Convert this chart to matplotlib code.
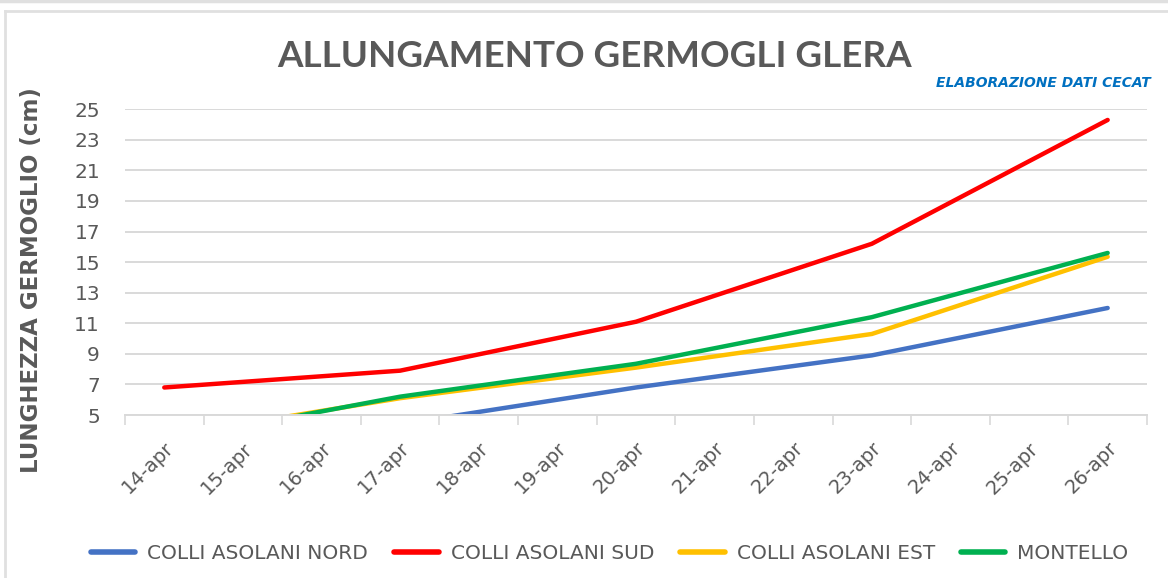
import numpy as np
import matplotlib
matplotlib.use("Agg")
import matplotlib.pyplot as plt
from matplotlib.lines import Line2D

# categories on the x axis (one per day)
days = ["14-apr", "15-apr", "16-apr", "17-apr", "18-apr", "19-apr", "20-apr",
        "21-apr", "22-apr", "23-apr", "24-apr", "25-apr", "26-apr"]
# days with a survey
survey_days = ["14-apr", "17-apr", "20-apr", "23-apr", "26-apr"]

# shoot length (cm); values below 5 are out of view
nord     = [2.6, 4.4, 6.8, 8.9, 12.0]
sud      = [6.8, 7.9, 11.1, 16.2, 24.3]
est      = [3.6, 6.1, 8.1, 10.3, 15.35]
montello = [3.3, 6.2, 8.35, 11.4, 15.6]

series = [
    ("COLLI ASOLANI NORD", nord,     "#4472C4"),
    ("COLLI ASOLANI SUD",  sud,      "#FF0000"),
    ("COLLI ASOLANI EST",  est,      "#FFC000"),
    ("MONTELLO",           montello, "#00B050"),
]

y_ticks = list(range(5, 26, 2))

GREY = "#595959"
GRID = "#D9D9D9"

fig = plt.figure(figsize=(11.68, 5.78), dpi=100)
ax = fig.add_axes([0.107, 0.282, 0.875, 0.529])

x_of = {d: i for i, d in enumerate(days)}
xs = [x_of[d] for d in survey_days]
for name, vals, col in series:
    ax.plot(xs, vals, color=col, lw=3.2, solid_capstyle="round",
            solid_joinstyle="round", label=name)

ax.set_xlim(-0.5, len(days) - 0.5)
ax.set_ylim(5, 25)
ax.set_yticks(y_ticks)
ax.tick_params(axis="y", length=0, labelsize=14.5, labelcolor=GREY, pad=18)
ax.yaxis.grid(True, color=GRID, lw=1.4)
ax.set_axisbelow(True)

# tick marks between categories, labels at category centres
ax.set_xticks(np.arange(-0.5, len(days)), minor=False)
ax.set_xticklabels([])
ax.set_xticks(np.arange(len(days)), minor=True)
ax.set_xticklabels(days, minor=True, rotation=45, ha="right",
                   rotation_mode="anchor", fontsize=14, color=GREY)
ax.tick_params(axis="x", which="major", length=7, width=1.2, color=GRID)
ax.tick_params(axis="x", which="minor", length=0, pad=17)

for s in ["top", "right", "left"]:
    ax.spines[s].set_visible(False)
ax.spines["bottom"].set_color(GRID)
ax.spines["bottom"].set_linewidth(1.4)

fig.text(0.509, 0.903, "ALLUNGAMENTO GERMOGLI GLERA", ha="center", va="center",
         fontsize=26.5, fontweight="bold", color=GREY,
         family=["Lato", "DejaVu Sans"])
fig.text(0.985, 0.857, "ELABORAZIONE DATI CECAT", ha="right", va="center",
         fontsize=10, fontweight="bold", style="italic", color="#0070C0")
fig.text(0.027, 0.516, "LUNGHEZZA GERMOGLIO (cm)", ha="center", va="center",
         rotation=90, fontsize=16.5, fontweight="bold", color=GREY)

handles = [Line2D([], [], color=c, lw=4, solid_capstyle="round")
           for _, _, c in series]
fig.legend(handles, [n for n, _, _ in series], loc="center",
           bbox_to_anchor=(0.522, 0.043), ncol=4, frameon=False,
           fontsize=14.5, labelcolor=GREY, handlelength=2.2,
           handletextpad=0.6, columnspacing=1.3)

# chart border like the source screenshot
fig.add_artist(Line2D([0, 1], [0.998, 0.998], color="#E0E0E0", lw=2.5,
                      transform=fig.transFigure))
fig.add_artist(Line2D([0.004, 1], [0.981, 0.981], color="#E0E0E0", lw=2,
                      transform=fig.transFigure))
fig.add_artist(Line2D([0.004, 0.004], [0, 0.981], color="#E0E0E0", lw=2,
                      transform=fig.transFigure))

fig.savefig("out.png", dpi=100)
